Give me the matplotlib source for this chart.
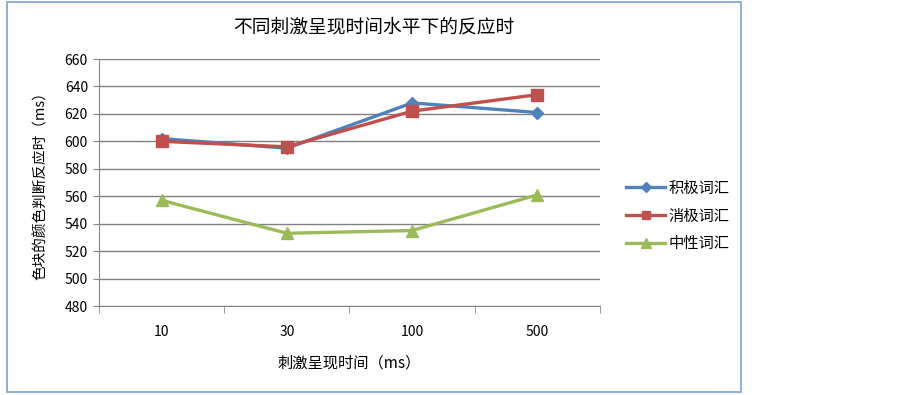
import matplotlib.pyplot as plt
from matplotlib.patches import Rectangle

plt.rcParams["font.family"] = ["Noto Sans CJK SC", "DejaVu Sans"]

categories = ["10", "30", "100", "500"]
positive = [602, 595, 628, 621]
negative = [600, 596, 622, 634]
neutral = [557, 533, 535, 561]
series_names = ["积极词汇", "消极词汇", "中性词汇"]
yticks = [480, 500, 520, 540, 560, 580, 600, 620, 640, 660]

fig = plt.figure(figsize=(9.03, 3.95), dpi=100)
W, H = 903, 395
# plot area in pixels: left 99, right 600, top 59, bottom 306
ax = fig.add_axes([99 / W, 1 - 306 / H, (600 - 99) / W, (306 - 59) / H])

# chart border
fig.patches.append(Rectangle((7 / W, 3 / H), (741 - 7) / W, (393 - 3) / H,
                             transform=fig.transFigure, fill=False,
                             edgecolor="#7a9fd4", linewidth=1.2))

x = range(len(categories))
ax.plot(x, positive, color="#4F81BD", lw=2.4, marker="D", ms=6, label=series_names[0])
ax.plot(x, negative, color="#C0504D", lw=2.4, marker="s", ms=8, label=series_names[1])
ax.plot(x, neutral, color="#9BBB59", lw=2.4, marker="^", ms=9, label=series_names[2])

ax.set_xlim(-0.5, len(categories) - 0.5)
ax.set_ylim(480, 660)
ax.set_yticks(yticks)
ax.set_xticks(list(x))
ax.set_xticklabels(categories)
ax.set_xticks([i - 0.5 for i in range(len(categories) + 1)], minor=True)
ax.tick_params(axis="x", which="major", length=0, pad=14, labelsize=10)
ax.tick_params(axis="x", which="minor", length=5, color="#868686", direction="out")
ax.tick_params(axis="y", length=4, color="#868686", labelsize=10, pad=4)
ax.grid(axis="y", color="#808080", lw=1)
ax.set_axisbelow(True)
for s in ["top", "right"]:
    ax.spines[s].set_visible(False)
for s in ["left", "bottom"]:
    ax.spines[s].set_color("#868686")

ax.set_xlabel("刺激呈现时间（ms）", fontsize=11, labelpad=11)
ax.set_ylabel("色块的颜色判断反应时（ms）", fontsize=10.5, labelpad=12)
fig.text(374 / W, 1 - 27 / H, "不同刺激呈现时间水平下的反应时", ha="center", va="center",
         fontsize=13.5)

ax.legend(loc="center left", bbox_to_anchor=(612 / W, 1 - 216 / H),
          bbox_transform=fig.transFigure, frameon=False, fontsize=11,
          handlelength=2.6, labelspacing=0.7, handletextpad=0.2, markerscale=0.8)

fig.savefig("out.png", dpi=100)
